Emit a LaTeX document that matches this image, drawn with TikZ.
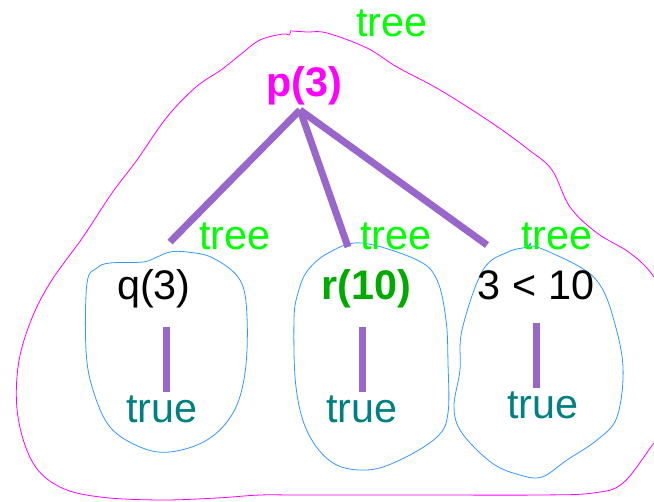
\documentclass[tikz,border=0pt]{standalone}
\usepackage{fontspec}
\setmainfont{Liberation Sans}
\definecolor{treegreen}{HTML}{00FF00}
\definecolor{goalpink}{HTML}{FF00FF}
\definecolor{litgreen}{HTML}{00AA00}
\definecolor{truteal}{HTML}{008080}
\definecolor{blobblue}{HTML}{3399FF}
\definecolor{linkpurple}{HTML}{9966CC}
\tikzset{
  txt/.style={anchor=base, inner sep=0pt, font=\fontsize{31}{37}\selectfont},
  link/.style={linkpurple, line width=5.25pt},
  blob/.style={blobblue, line width=0.6pt},
}

\begin{document}
\begin{tikzpicture}[x=0.75pt,y=-0.75pt]
            \useasboundingbox (0,0) rectangle (654,502);

            % outer goal tree
            \draw[goalpink, line width=0.6pt] plot[smooth, tension=0.6] coordinates {
              (292,31) (307,32) (327,33) (367,48) (397,67) (440,90) (492,123)
              (529,150) (552,170) (570,207) (597,233) (630,253) (654,277)
              (676,320) (680,370) (674,420) (654,443) (623,483) (593,493)
              (540,495) (420,495) (300,495) (260,495) (217,498) (160,500)
              (100,497) (60,487) (33,463) (18,417) (18,367) (30,323) (50,283)
              (83,237) (112,193) (137,160) (167,117) (196,87) (221,70)
              (240,55) (260,40) (283,34) (289,35) (291,30)};

            % subtrees
            \draw[blob] plot[smooth cycle, tension=0.6] coordinates {
              (170,252) (187,252) (213,258) (240,280) (247,317) (245,373)
              (233,413) (207,440) (170,452) (140,447) (110,427) (93,390)
              (86,350) (87,283) (97,268) (110,263) (143,262) (157,257)};
            \draw[blob] plot[smooth cycle, tension=0.6] coordinates {
              (362,243) (417,260) (437,280) (446,320) (448,363) (448,413)
              (437,437) (400,460) (367,470) (333,463) (308,433) (296,387)
              (294,320) (298,293) (308,270) (330,252)};
            \draw[blob] plot[smooth, tension=0.6] coordinates {
              (531,243) (529,246) (540,248) (580,267) (600,285) (613,317)
              (623,367) (617,417) (597,440) (567,460) (542,477) (520,475)
              (492,463) (462,433) (454,407) (460,370) (462,330) (483,270)
              (508,252) (527,247) (531,243)};

            \node[txt, treegreen] (treeTop) at (392,37) {tree};
            \node[txt, goalpink, font=\fontsize{31}{37}\selectfont\bfseries] (p3) at (304,97) {p(3)};

            \node[txt, treegreen] (treeQ) at (235,250) {tree};
            \node[txt, treegreen] (treeR) at (396,250) {tree};
            \node[txt, treegreen] (treeLt) at (557,250) {tree};

            \node[txt] (q3) at (154,300) {q(3)};
            \node[txt, litgreen, font=\fontsize{31}{37}\selectfont\bfseries] (r10) at (366,300) {r(10)};
            \node[txt] (lt) at (536,300) {3 < 10};

            \node[txt, truteal] (trueQ) at (162,423) {true};
            \node[txt, truteal] (trueR) at (362,423) {true};
            \node[txt, truteal] (trueLt) at (543,419) {true};

            \coordinate (apex) at (300,110);
            \coordinate (toQ) at (170,242);
            \coordinate (toR) at (348,247);
            \coordinate (toLt) at (487,245);
            \coordinate (q3Bot) at (166,327);
            \coordinate (q3Leaf) at (166,392);
            \coordinate (r10Bot) at (362,327);
            \coordinate (r10Leaf) at (362,392);
            \coordinate (ltBot) at (536,323);
            \coordinate (ltLeaf) at (536,388);

            \draw[link] (apex) -- (toQ);
            \draw[link] (apex) -- (toR);
            \draw[link] (apex) -- (toLt);
            \draw[link] (q3Bot) -- (q3Leaf);
            \draw[link] (r10Bot) -- (r10Leaf);
            \draw[link] (ltBot) -- (ltLeaf);
        \end{tikzpicture}
\end{document}
